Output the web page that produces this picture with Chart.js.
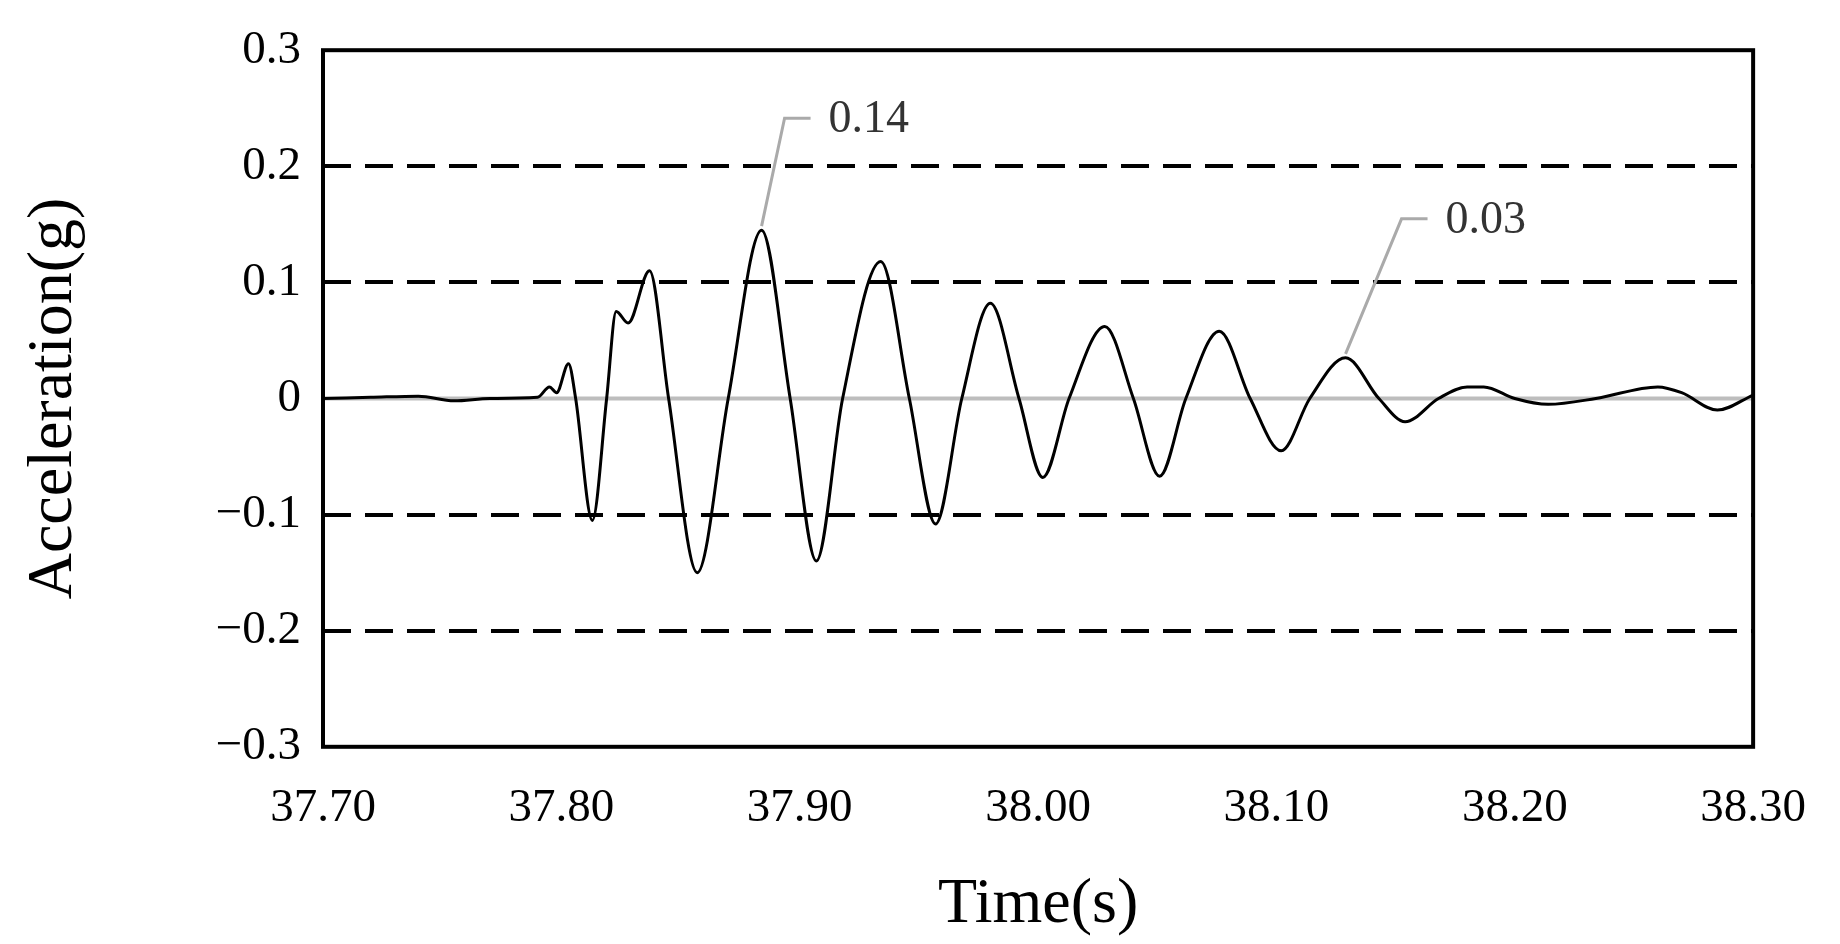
<!DOCTYPE html>
<html><head><meta charset="utf-8">
<script src="https://cdn.jsdelivr.net/npm/chart.js@4"></script>
<style>html,body{margin:0;background:#fff}#w{width:1840px;height:944px}</style>
</head><body><div id="w"><canvas id="c" width="1840" height="944"></canvas></div>
<script>
const times = [37.70,37.72,37.74,37.755,37.77,37.79,37.795,37.798,37.803,37.806,37.813,37.819,37.823,37.828,37.837,37.845,37.857,37.870,37.884,37.896,37.907,37.918,37.934,37.946,37.957,37.968,37.980,37.992,38.002,38.013,38.028,38.040,38.051,38.062,38.076,38.089,38.102,38.114,38.129,38.143,38.154,38.168,38.180,38.187,38.200,38.214,38.234,38.260,38.270,38.285,38.300];
const accel = [0,0.001,0.002,-0.002,0,0.001,0.01,0.005,0.03,0.0,-0.105,0,0.075,0.065,0.11,0,-0.15,0,0.145,0,-0.14,0,0.118,0,-0.108,0,0.082,0,-0.068,0,0.062,0,-0.067,0,0.058,0,-0.045,0,0.035,0,-0.02,0,0.01,0.01,0,-0.005,0,0.01,0.005,-0.01,0.003];
const yTicks = [-0.3,-0.2,-0.1,0,0.1,0.2,0.3];
const dashedLevels = [-0.2,-0.1,0.1,0.2];
const callouts = [{t:37.884,v:0.145,text:"0.14"},{t:38.129,v:0.035,text:"0.03"}];
const F = "'Liberation Serif','Times New Roman',serif";

const deco = {
  id:'deco',
  beforeDatasetsDraw(ch){
    const {ctx,chartArea:a,scales:{y}} = ch;
    ctx.save();
    ctx.strokeStyle='#000'; ctx.lineWidth=4; ctx.setLineDash([28,14]);
    dashedLevels.forEach(v=>{const p=Math.round(y.getPixelForValue(v));ctx.beginPath();ctx.moveTo(a.left,p);ctx.lineTo(a.right,p);ctx.stroke();});
    ctx.setLineDash([]); ctx.strokeStyle='#bdbdbd'; ctx.lineWidth=4;
    const z=y.getPixelForValue(0); ctx.beginPath();ctx.moveTo(a.left,z);ctx.lineTo(a.right,z);ctx.stroke();
    ctx.restore();
  },
  afterDatasetsDraw(ch){
    const {ctx,chartArea:a,scales:{x,y}} = ch;
    ctx.save();
    ctx.strokeStyle='#000'; ctx.lineWidth=4; ctx.strokeRect(a.left,a.top,a.right-a.left,a.bottom-a.top);
    ctx.strokeStyle='#aaa'; ctx.lineWidth=3; ctx.font="46px "+F; ctx.fillStyle='#333'; ctx.textBaseline='middle';
    const offs=[[23,-108],[56,-135]];
    callouts.forEach((c,i)=>{
      const px=x.getPixelForValue(c.t), py=y.getPixelForValue(c.v)-4;
      const ex=px+offs[i][0], ey=py+offs[i][1];
      ctx.beginPath();ctx.moveTo(px,py);ctx.lineTo(ex,ey);ctx.lineTo(ex+26,ey);ctx.stroke();
      ctx.fillText(c.text,ex+44,ey+2);
    });
    ctx.restore();
  }
};

new Chart(document.getElementById('c'),{
  type:'line',
  data:{datasets:[{data:times.map((t,i)=>({x:t,y:accel[i]})),borderColor:'#000',borderWidth:3,pointRadius:0,cubicInterpolationMode:'monotone',fill:false}]},
  options:{
    responsive:false,animation:false,devicePixelRatio:1,
    layout:{padding:{left:12,right:58,top:10,bottom:0}},
    plugins:{legend:{display:false},tooltip:{enabled:false}},
    scales:{
      x:{type:'linear',min:37.7,max:38.3,
        grid:{display:false,drawTicks:false},border:{display:false},
        afterBuildTicks(s){s.ticks=[37.7,37.8,37.9,38.0,38.1,38.2,38.3].map(v=>({value:v}));},
        ticks:{color:'#000',padding:34,maxRotation:0,font:{family:F,size:47},callback:v=>Number(v).toFixed(2)},
        title:{display:true,text:'Time(s)',color:'#000',font:{family:F,size:64},padding:{top:-4,bottom:0}}},
      y:{min:-0.3,max:0.3,
        grid:{display:false,drawTicks:false},border:{display:false},
        afterBuildTicks(s){s.ticks=yTicks.map(v=>({value:v}));},
        afterFit(s){s.width=311;},
        ticks:{color:'#000',padding:22,font:{family:F,size:47},callback:v=>{const r=Math.round(v*10)/10;return r===0?'0':(r<0?'\u2212'+Math.abs(r).toFixed(1):r.toFixed(1));}},
        title:{display:true,text:'Acceleration(g)',color:'#000',font:{family:F,size:64},padding:{bottom:40}}}
    }
  },
  plugins:[deco]
});
</script></body></html>
